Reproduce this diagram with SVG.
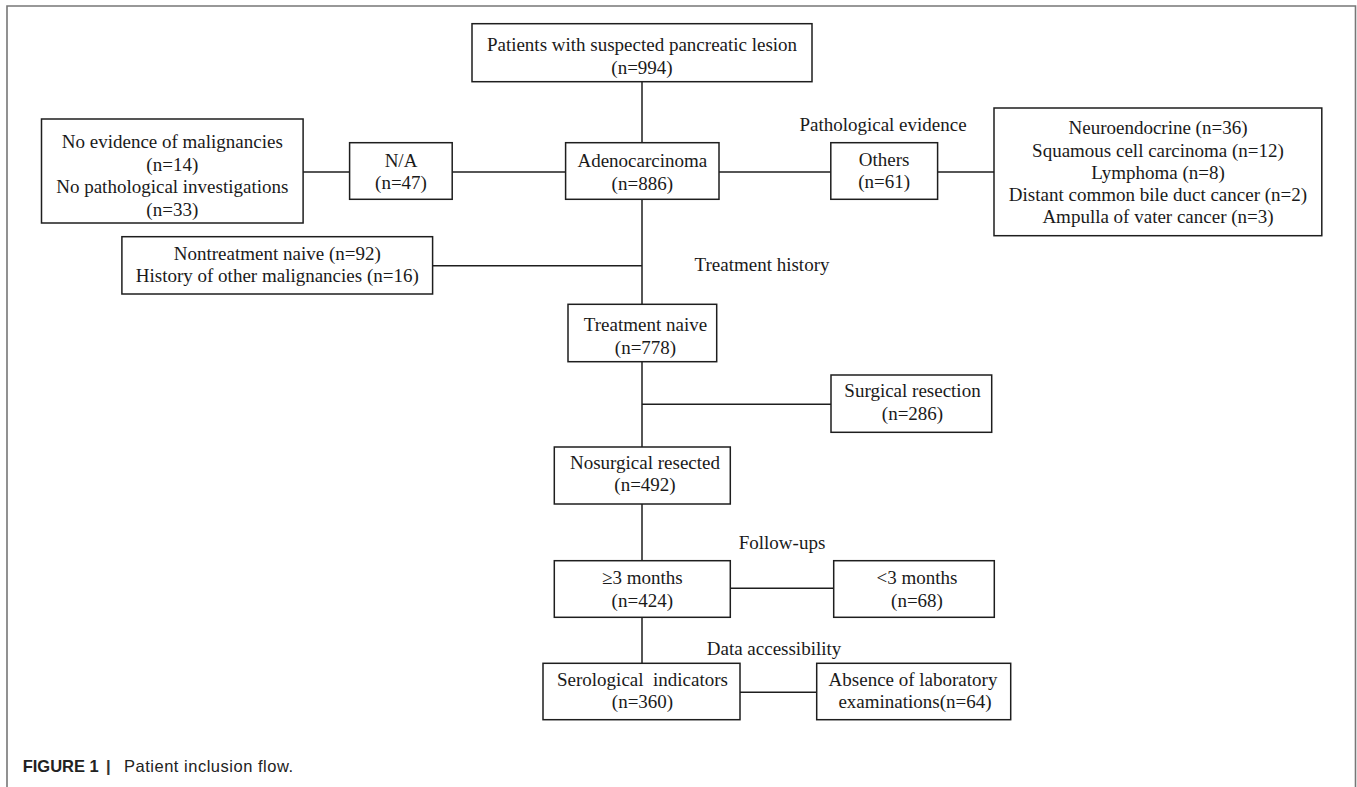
<svg xmlns="http://www.w3.org/2000/svg" width="1357" height="787" viewBox="0 0 1357 787">
<style>
.box{fill:#fff;stroke:#1e1e1e;stroke-width:1.5}
.ln{stroke:#1e1e1e;stroke-width:1.5;fill:none}
.t{font-family:"Liberation Serif","Times New Roman",serif;font-size:19px;fill:#1a1a1a;text-anchor:middle}
.cap{font-family:"Liberation Sans",Arial,sans-serif;font-size:16.5px;fill:#222}
</style>
<rect x="0" y="0" width="1357" height="787" fill="#fff"/>
<path d="M7,790 V6 H1355.5 V790" fill="none" stroke="#777" stroke-width="1.6"/>
<g id="connectors">
<line class="ln" x1="642" y1="81.7" x2="642" y2="142.7"/>
<line class="ln" x1="303" y1="172" x2="349.6" y2="172"/>
<line class="ln" x1="452.2" y1="172" x2="565.6" y2="172"/>
<line class="ln" x1="719" y1="172" x2="830.8" y2="172"/>
<line class="ln" x1="937.6" y1="172" x2="994" y2="172"/>
<line class="ln" x1="642" y1="199.3" x2="642" y2="304.3"/>
<line class="ln" x1="432.6" y1="265.7" x2="642" y2="265.7"/>
<line class="ln" x1="642" y1="361.7" x2="642" y2="447"/>
<line class="ln" x1="642" y1="404.3" x2="831" y2="404.3"/>
<line class="ln" x1="642" y1="504" x2="642" y2="560.7"/>
<line class="ln" x1="730.3" y1="588.3" x2="833.7" y2="588.3"/>
<line class="ln" x1="642" y1="617.3" x2="642" y2="663.3"/>
<line class="ln" x1="740" y1="692.3" x2="816.7" y2="692.3"/>
</g>
<g id="labels">
<text class="t" x="883" y="130.5">Pathological evidence</text>
<text class="t" x="762" y="270.5">Treatment history</text>
<text class="t" x="782" y="548.7">Follow-ups</text>
<text class="t" x="774" y="655">Data accessibility</text>
</g>
<g id="n-patients">
<rect class="box" x="472" y="23.7" width="340" height="58"/>
<text class="t" x="642" y="51">Patients with suspected pancreatic lesion</text>
<text class="t" x="642" y="73.5">(n=994)</text>
</g>
<g id="n-noevidence">
<rect class="box" x="41.5" y="119" width="261.6" height="104"/>
<text class="t" x="172.3" y="148">No evidence of malignancies</text>
<text class="t" x="172.3" y="171">(n=14)</text>
<text class="t" x="172.3" y="193">No pathological investigations</text>
<text class="t" x="172.3" y="216">(n=33)</text>
</g>
<g id="n-na">
<rect class="box" x="349.6" y="142.7" width="102.6" height="56.6"/>
<text class="t" x="401" y="167">N/A</text>
<text class="t" x="401" y="189">(n=47)</text>
</g>
<g id="n-adeno">
<rect class="box" x="565.6" y="142.7" width="153.4" height="56.6"/>
<text class="t" x="642.3" y="167">Adenocarcinoma</text>
<text class="t" x="642.3" y="189.5">(n=886)</text>
</g>
<g id="n-others">
<rect class="box" x="830.8" y="142.7" width="106.8" height="56.6"/>
<text class="t" x="884.2" y="166">Others</text>
<text class="t" x="884.2" y="188">(n=61)</text>
</g>
<g id="n-otherlist">
<rect class="box" x="994" y="108" width="327.8" height="127.7"/>
<text class="t" x="1158" y="134">Neuroendocrine (n=36)</text>
<text class="t" x="1158" y="156.5">Squamous cell carcinoma (n=12)</text>
<text class="t" x="1158" y="178.5">Lymphoma (n=8)</text>
<text class="t" x="1158" y="201">Distant common bile duct cancer (n=2)</text>
<text class="t" x="1158" y="223">Ampulla of vater cancer (n=3)</text>
</g>
<g id="n-nontreat">
<rect class="box" x="121.9" y="236.7" width="310.7" height="57.3"/>
<text class="t" x="277.3" y="260">Nontreatment naive (n=92)</text>
<text class="t" x="277.3" y="281.5">History of other malignancies (n=16)</text>
</g>
<g id="n-naive">
<rect class="box" x="568" y="304.3" width="148.7" height="57.4"/>
<text class="t" x="645.5" y="330.5">Treatment naive</text>
<text class="t" x="645.5" y="354">(n=778)</text>
</g>
<g id="n-surgical">
<rect class="box" x="831" y="375" width="160.7" height="57.3"/>
<text class="t" x="912.5" y="397">Surgical resection</text>
<text class="t" x="912.5" y="419.5">(n=286)</text>
</g>
<g id="n-nosurg">
<rect class="box" x="554.3" y="447" width="176" height="57"/>
<text class="t" x="645" y="469">Nosurgical resected</text>
<text class="t" x="645" y="491">(n=492)</text>
</g>
<g id="n-ge3">
<rect class="box" x="554.3" y="560.7" width="176" height="56.6"/>
<text class="t" x="642.3" y="584">≥3 months</text>
<text class="t" x="642.3" y="607">(n=424)</text>
</g>
<g id="n-lt3">
<rect class="box" x="833.7" y="560.7" width="160.6" height="56.6"/>
<text class="t" x="917" y="584">&lt;3 months</text>
<text class="t" x="917" y="607">(n=68)</text>
</g>
<g id="n-sero">
<rect class="box" x="543" y="663.3" width="197" height="56.4"/>
<text class="t" x="642.5" y="685.5" xml:space="preserve">Serological  indicators</text>
<text class="t" x="642.5" y="708">(n=360)</text>
</g>
<g id="n-absence">
<rect class="box" x="816.7" y="663.3" width="194" height="56.4"/>
<text class="t" x="913" y="685.5">Absence of laboratory</text>
<text class="t" x="915" y="708">examinations(n=64)</text>
</g>
<g id="caption">
<text class="cap" x="22.7" y="772"><tspan font-weight="bold">FIGURE 1</tspan><tspan x="106" font-weight="bold" fill="#333">|</tspan><tspan x="124" textLength="169" lengthAdjust="spacing">Patient inclusion flow.</tspan></text>
</g>
</svg>
